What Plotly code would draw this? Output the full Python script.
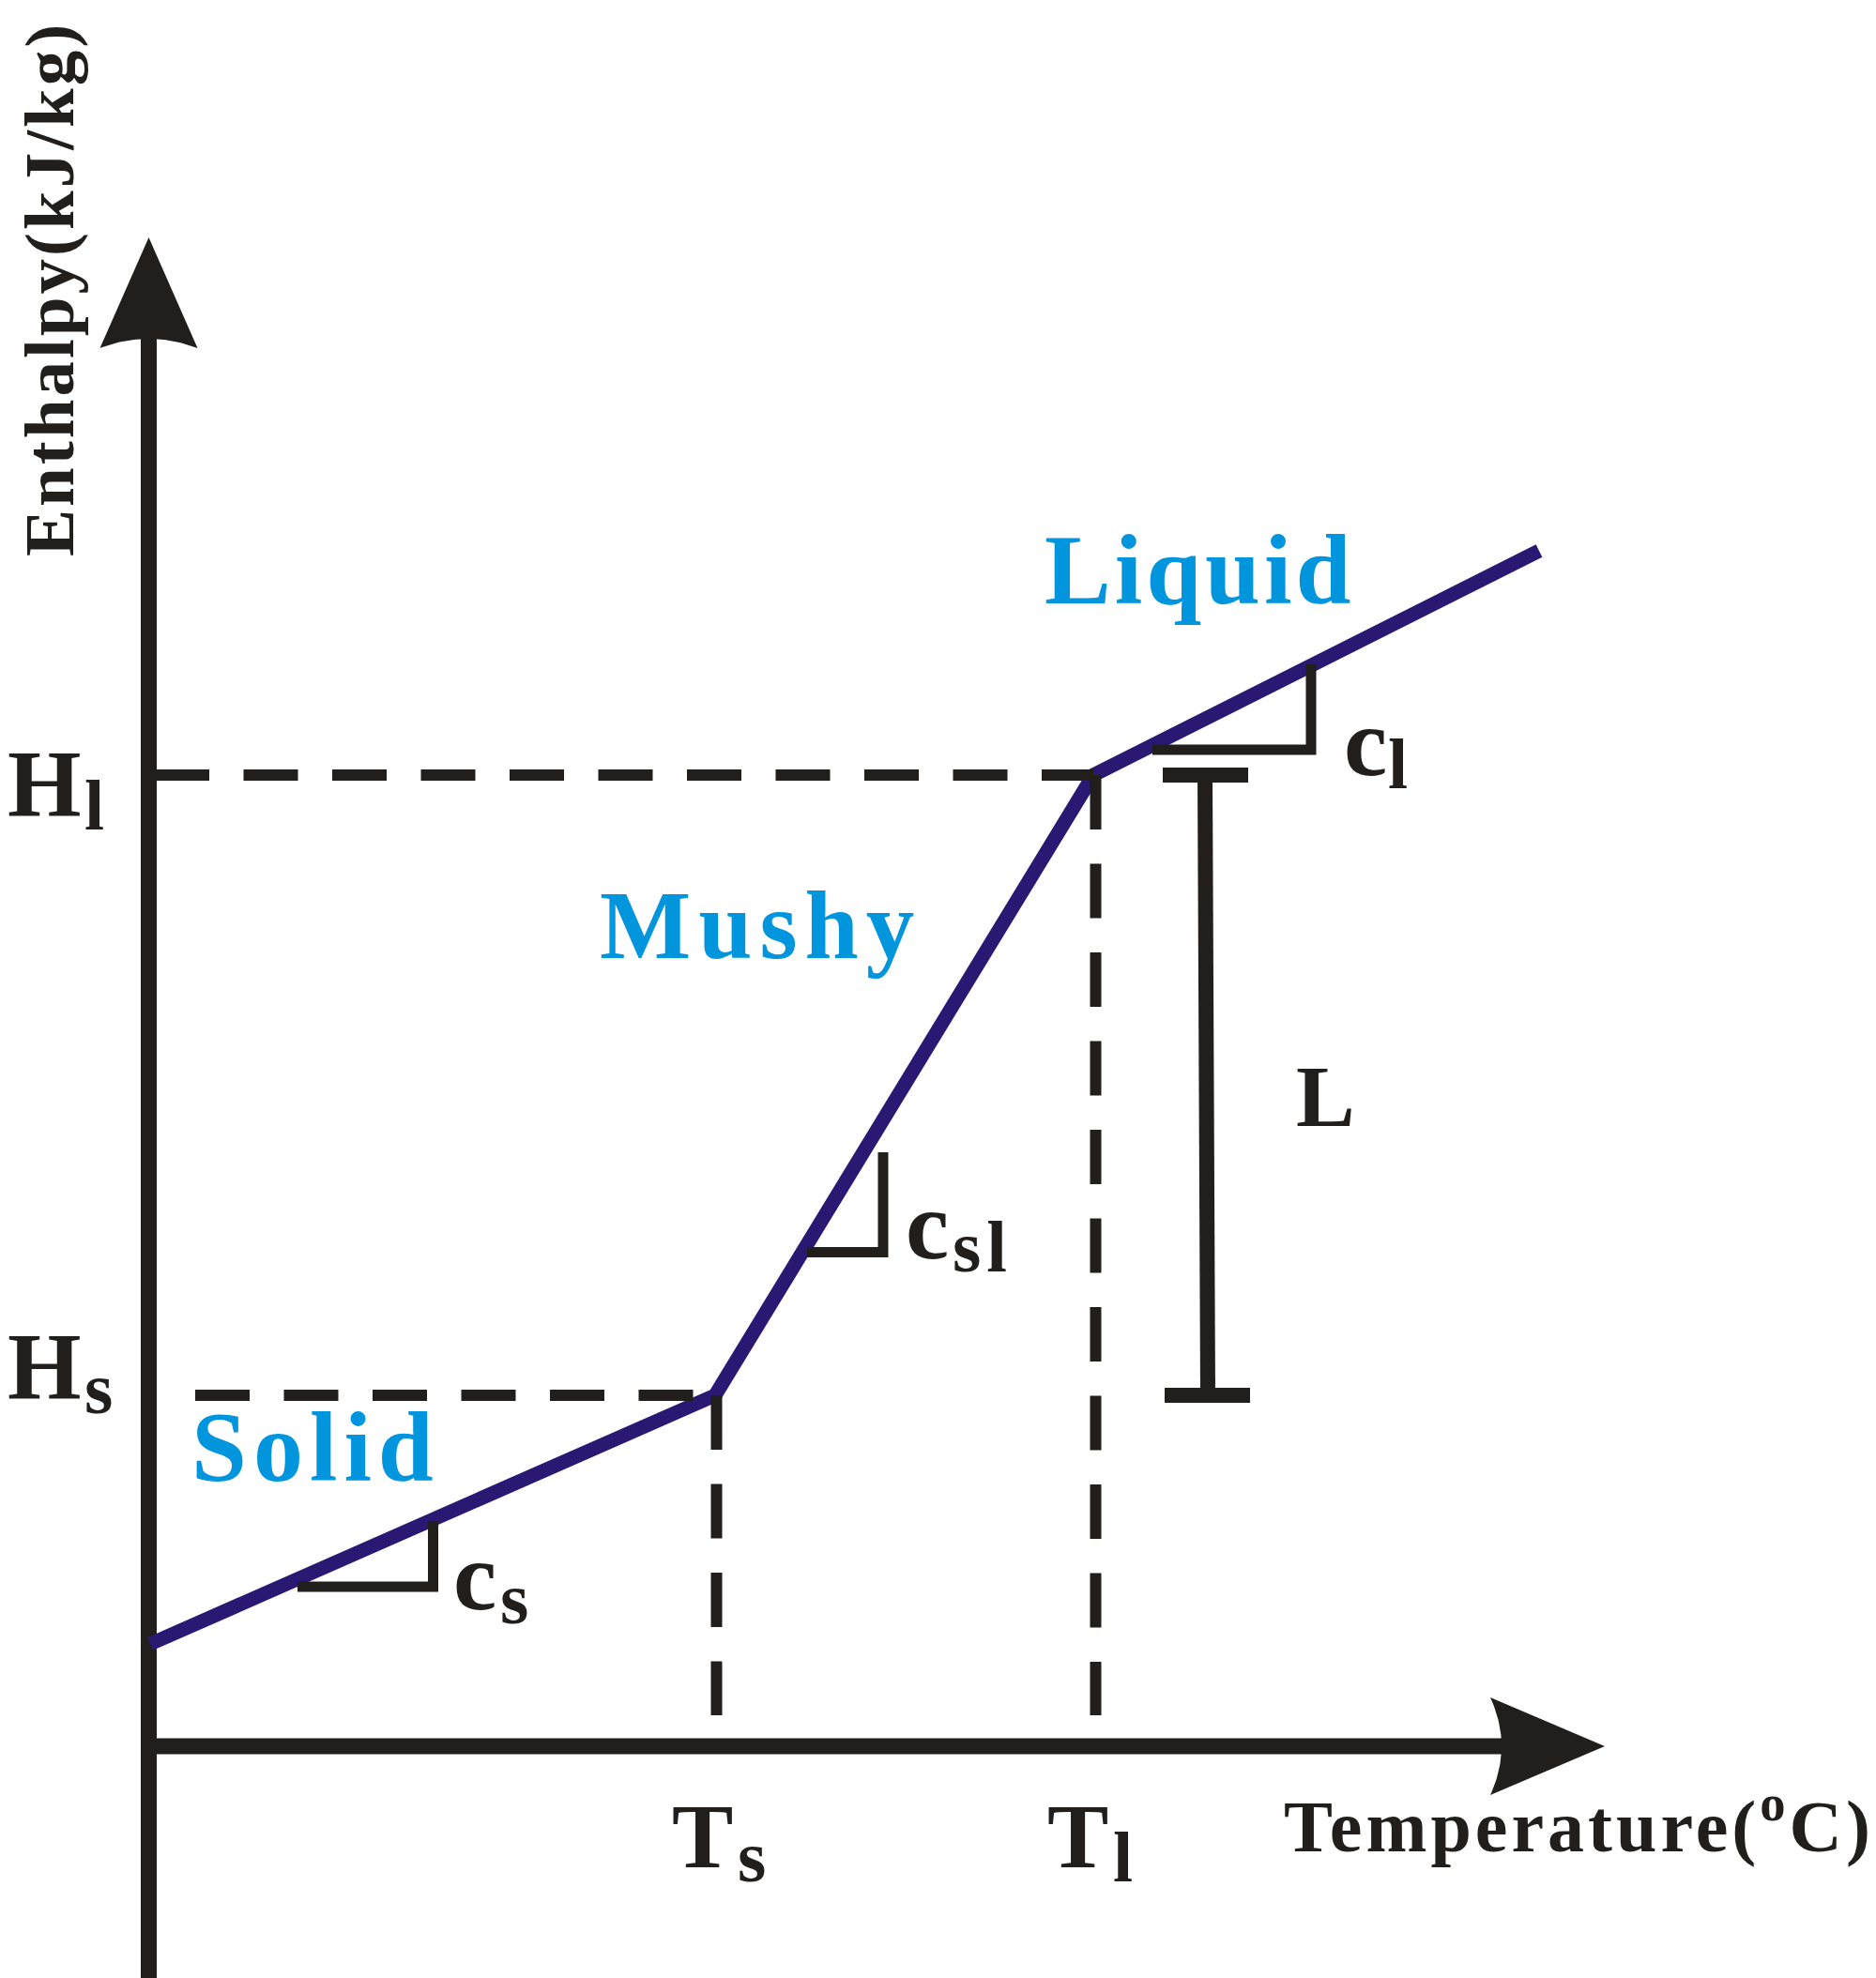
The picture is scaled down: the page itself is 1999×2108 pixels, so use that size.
import numpy as np
import plotly.graph_objects as go

# ------------------------------------------------------------------
# Data (schematic units, origin = crossing point of the two axes)
# ------------------------------------------------------------------
curve_T = [1.5, 603.5, 1006.5, 1481.5]      # temperature
curve_H = [109, 374, 1035, 1274]            # enthalpy

H_solidus = 374
H_liquidus = 1035
T_solidus_guide = 605
T_liquidus_guide = 1009
guide_bottom_H = 33

hs_dash_T = [49.5, 603.5]
hl_dash_T = [6.5, 1006.5]

cs_T = [158.5, 303, 303]
cs_H = [170, 170, 240]
csl_T = [701.5, 782.5, 782.5]
csl_H = [526.5, 526.5, 633]
cl_T = [1069.5, 1238.5, 1238.5]
cl_H = [1062, 1062, 1153]

L_stem_T = [1125.5, 1128.5]
L_stem_H = [1035, 374]
L_cap_top_T = [1080.5, 1171.5]
L_cap_bot_T = [1082.5, 1173.5]

y_axis_H = [-247, 1500]
x_axis_T = [-8.5, 1441.5]
y_arrow = dict(tip=1608, base=1490, half=52, depth=10)
x_arrow = dict(tip=1551.5, base=1429.5, half=52, depth=12)

# ------------------------------------------------------------------
BLACK = "#221E1B"
NAVY = "#2A1872"
BLUE = "#0095DD"
FONT = "Liberation Serif"
PAGE_W, PAGE_H = 1999, 2108
OFF = 8                     # default body margin of the html page
W, H = PAGE_W - OFF, PAGE_H - OFF
OX, OY = 158.5, 1861.0      # page-pixel position of the origin

fig = go.Figure()


def line(xs, ys, color=BLACK, width=11, dash="solid"):
    fig.add_trace(go.Scatter(x=xs, y=ys, mode="lines",
                             line=dict(color=color, width=width, dash=dash),
                             hoverinfo="skip", showlegend=False))


def arrowhead(tip, base, half, depth, vertical):
    s = np.linspace(-half, half, 41)
    sign = np.sign(tip - base)
    curve = base + sign * depth * (1 - (s / half) ** 2)
    along = [tip] + list(curve) + [tip]
    across = [0] + list(s) + [0]
    xs, ys = (across, along) if vertical else (along, across)
    fig.add_trace(go.Scatter(x=xs, y=ys, mode="lines", fill="toself",
                             fillcolor=BLACK, line=dict(color=BLACK, width=0),
                             hoverinfo="skip", showlegend=False))


# axes
line([0, 0], y_axis_H, width=17)
line(x_axis_T, [0, 0], width=17)
arrowhead(vertical=True, **y_arrow)
arrowhead(vertical=False, **x_arrow)

# enthalpy curve
line(curve_T, curve_H, color=NAVY, width=15)

# dashed guides
DASH = "58px,36.5px"
line(hs_dash_T, [H_solidus, H_solidus], width=12, dash=DASH)
line(hl_dash_T, [H_liquidus, H_liquidus], width=12, dash=DASH)
line([T_solidus_guide, T_solidus_guide], [H_solidus, guide_bottom_H], width=12, dash=DASH)
line([T_liquidus_guide, T_liquidus_guide], [H_liquidus, guide_bottom_H], width=12, dash=DASH)

# slope triangles
line(cs_T, cs_H, width=11)
line(csl_T, csl_H, width=11)
line(cl_T, cl_H, width=11)

# latent heat bracket
line(L_stem_T, L_stem_H, width=16)
line(L_cap_top_T, [H_liquidus, H_liquidus], width=16)
line(L_cap_bot_T, [H_solidus, H_solidus], width=16)

# ------------------------------------------------------------------
# text (positions given as page pixels: anchor edge, baseline)
DESC = 0.216


def text(t, xpos, baseline, size, color=BLACK, spacing=0, anchor="left"):
    if spacing:
        t = f'<span style="letter-spacing:{spacing}px">{t}</span>'
    fig.add_annotation(x=xpos - OX, y=OY - (baseline + DESC * size),
                       xref="x", yref="y", xanchor=anchor, yanchor="bottom",
                       text=t, showarrow=False, borderpad=0, borderwidth=0,
                       font=dict(family=FONT, size=size, color=color, weight="bold"))


text("Liquid", 1113, 643, 106, BLUE, 4)
text("Mushy", 639, 1021, 103, BLUE, 8)
text("Solid", 204, 1578, 106, BLUE, 7)

text("H", 87, 870, 101, anchor="right")
text("l", 90, 884, 76)
text("H", 87, 1491, 101, anchor="right")
text("s", 90, 1506, 78)

text("T", 716, 1990, 98)
text("s", 786, 2005, 78)
text("T", 1116, 1990, 98)
text("l", 1186, 2005, 76)

text("c", 483, 1715, 104)
text("s", 533, 1730, 78)
text("c", 965, 1341, 104)
text("sl", 1015, 1355, 78, spacing=6)
text("c", 1432, 826, 104)
text("l", 1479, 840, 76)

text("L", 1381, 1200, 94)

text("Temperature(<sup>o</sup>C)", 1997, 1973, 78, spacing=4, anchor="right")

fig.add_annotation(x=52 - OX, y=OY - 308, xref="x", yref="y",
                   xanchor="center", yanchor="middle", textangle=-90,
                   text='<span style="letter-spacing:3px">Enthalpy(kJ/kg)</span>',
                   showarrow=False, borderpad=0, borderwidth=0,
                   font=dict(family=FONT, size=75, color=BLACK, weight="bold"))

fig.update_layout(
    width=W, height=H,
    margin=dict(l=0, r=0, t=0, b=0),
    paper_bgcolor="white", plot_bgcolor="white",
    xaxis=dict(range=[OFF - OX, PAGE_W - OX], visible=False, fixedrange=True),
    yaxis=dict(range=[OY - PAGE_H, OY - OFF], visible=False, fixedrange=True),
    showlegend=False,
)

fig.write_html("out.html")
